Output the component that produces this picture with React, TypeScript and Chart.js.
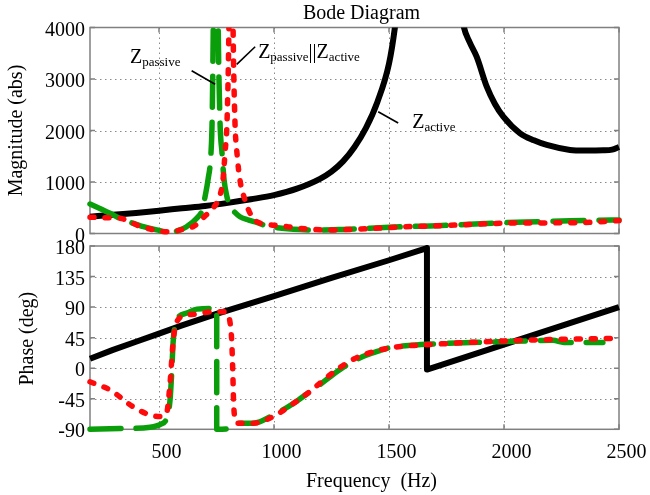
import React, { useEffect, useRef } from "react";
import { Chart, registerables } from "chart.js";

Chart.register(...registerables);

const SERIF = '"Liberation Serif", "Times New Roman", serif';
const GREEN = "#0b9e0b";
const RED = "#ff0a0a";

// ---- axis ticks ----
const freqTicks = [500, 1000, 1500, 2000, 2500];
const magTicks = [0, 1000, 2000, 3000, 4000];
const phaseTicks = [-90, -45, 0, 45, 90, 135, 180];

// ---- magnitude (abs) ----
const activeMagFreq = [200, 300, 400, 500, 600, 700, 800, 900, 1000, 1100, 1200, 1250, 1300, 1350, 1400, 1450, 1500, 1525, 1540, 1560, 1665, 1780, 1800, 1826, 1850, 1881, 1925, 1960, 1997, 2070, 2130, 2186, 2287, 2350, 2432, 2470, 2500];
const activeMag = [326, 365, 400, 443, 490, 535, 595, 665, 745, 870, 1060, 1200, 1400, 1680, 2050, 2560, 3300, 3980, 4600, 5600, null, 5600, 4700, 4000, 3720, 3434, 2851, 2520, 2268, 1946, 1810, 1719, 1622, 1610, 1615, 1630, 1680];

const passiveMagFreq = [200, 250, 287, 330, 380, 432, 490, 548, 585, 620, 664, 690, 700, 713, 726, 731, 736, 742, 748, 754, 757, 765, 774, 783, 795, 809, 830, 852, 890, 925, 960, 1000, 1084, 1200, 1300, 1417, 1561, 1709, 1850, 1997, 2150, 2287, 2400, 2500];
const passiveMag = [573, 470, 392, 295, 210, 132, 70, 23, 60, 132, 295, 480, 710, 1039, 1563, 2204, 4016, 7000, 9000, 6000, 4200, 2204, 1563, 1039, 720, 521, 410, 326, 260, 215, 160, 120, 81, 68, 80, 101, 132, 151, 180, 210, 230, 249, 255, 262];

const parallelMagFreq = [200, 250, 287, 330, 370, 403, 450, 500, 538, 580, 620, 648, 670, 697, 720, 740, 757, 778, 787, 796, 804, 810, 816, 822, 830, 839, 852, 874, 904, 939, 980, 1026, 1113, 1243, 1300, 1417, 1561, 1709, 1850, 1997, 2150, 2300, 2405, 2470, 2500];
const parallelMag = [315, 310, 305, 295, 240, 165, 100, 50, 35, 55, 101, 132, 200, 326, 420, 520, 650, 1039, 1563, 2204, 4016, 7000, 7000, 4016, 2204, 1563, 1039, 650, 326, 200, 170, 150, 101, 68, 75, 95, 130, 150, 175, 200, 205, 210, 223, 243, 250];

// ---- phase (deg) ----
const activePhaseFreq = [200, 300, 400, 500, 600, 750, 1000, 1250, 1500, 1665, 1665, 2500];
const activePhase = [14, 27, 39, 51, 63, 80, 106, 133, 159, 177, -2, 90];

const passivePhaseFreq = [200, 330, 461, 510, 533, 548, 555, 562, 577, 620, 665, 751, 751, 800, 838, 910, 997, 1084, 1150, 1200, 1250, 1300, 1350, 1400, 1460, 1500, 1600, 1707, 1983, 2213, 2260, 2430];
const passivePhase = [-90, -89, -87, -82, -74, -47, -8, 41, 71, 81, 87, 88, -90, -89, -81, -81, -69, -52, -36, -24, -11, 1, 11, 19, 26, 30, 34, 36, 39, 41, 38, 38];

const parallelPhaseFreq = [200, 287, 388, 461, 504, 533, 548, 562, 577, 620, 665, 735, 778, 795, 809, 816, 821, 824, 831, 844, 910, 997, 1084, 1150, 1200, 1243, 1300, 1350, 1400, 1461, 1550, 1635, 1852, 2070, 2330, 2500];
const parallelPhase = [-20, -32, -57, -69, -71, -66, -22, 41, 68, 78, 80, 83, 83, 82, 67, 41, -7, -47, -76, -81, -81, -71, -52, -36, -22, -10, 4, 14, 21, 27, 32, 34, 38, 41, 43, 44];

// ---- annotations (in data units: Hz, abs) ----
type Part = [string, number, number];
const magAnnotations: { parts: Part[]; at: number[]; line: number[][] }[] = [
  { parts: [["Z", 20, 0], ["passive", 13, 3]], at: [374, 3301], line: [[642, 3161], [744, 2897]] },
  {
    parts: [["Z", 20, 0], ["passive", 13, 3], ["||", 20, 0], ["Z", 20, 0], ["active", 13, 3]],
    at: [931, 3414],
    line: [[918, 3627], [838, 3285]],
  },
  { parts: [["Z", 20, 0], ["active", 13, 3]], at: [1601, 2049], line: [[1453, 2365], [1540, 2146]] },
];

const pts = (xs: number[], ys: (number | null)[]) => xs.map((x, i) => ({ x, y: ys[i] }));

function framePlugin(yTicks: number[]) {
  return {
    id: "frameGrid",
    beforeDatasetsDraw(chart: any) {
      const { ctx, chartArea: a, scales } = chart;
      const xs = scales.x;
      const ys = scales.y;
      ctx.save();
      ctx.lineWidth = 1;
      ctx.strokeStyle = "#8a8a8a";
      ctx.setLineDash([1.5, 3.5]);
      ctx.beginPath();
      for (const v of freqTicks) {
        const p = Math.round(xs.getPixelForValue(v)) + 0.5;
        if (p > a.left + 2 && p < a.right - 2) {
          ctx.moveTo(p, a.top);
          ctx.lineTo(p, a.bottom);
        }
      }
      for (const v of yTicks) {
        const p = Math.round(ys.getPixelForValue(v)) + 0.5;
        if (p > a.top + 2 && p < a.bottom - 2) {
          ctx.moveTo(a.left, p);
          ctx.lineTo(a.right, p);
        }
      }
      ctx.stroke();
      ctx.setLineDash([]);
      ctx.strokeStyle = "#808080";
      ctx.lineWidth = 1.5;
      ctx.beginPath();
      for (const v of freqTicks) {
        const p = xs.getPixelForValue(v);
        ctx.moveTo(p, a.top);
        ctx.lineTo(p, a.top + 5);
        ctx.moveTo(p, a.bottom);
        ctx.lineTo(p, a.bottom - 5);
      }
      for (const v of yTicks) {
        const p = ys.getPixelForValue(v);
        ctx.moveTo(a.left, p);
        ctx.lineTo(a.left + 5, p);
        ctx.moveTo(a.right, p);
        ctx.lineTo(a.right - 5, p);
      }
      ctx.stroke();
      ctx.strokeRect(a.left, a.top, a.right - a.left, a.bottom - a.top);
      ctx.restore();
    },
  };
}

function drawYLabels(ctx: CanvasRenderingContext2D, chart: any, ticks: number[]) {
  const ys = chart.scales.y;
  const a = chart.chartArea;
  ctx.font = `20px ${SERIF}`;
  ctx.textAlign = "right";
  ctx.textBaseline = "alphabetic";
  for (const v of ticks) {
    ctx.fillText(String(v), a.left - 5, ys.getPixelForValue(v) + 8);
  }
}

function drawRotated(ctx: CanvasRenderingContext2D, text: string, x: number, y: number) {
  ctx.save();
  ctx.translate(x, y);
  ctx.rotate(-Math.PI / 2);
  ctx.font = `20px ${SERIF}`;
  ctx.textAlign = "center";
  ctx.textBaseline = "middle";
  ctx.fillText(text, 0, 0);
  ctx.restore();
}

const topText = {
  id: "topText",
  afterDraw(chart: any) {
    const { ctx, chartArea: a, scales } = chart;
    ctx.save();
    ctx.fillStyle = "#000";
    drawYLabels(ctx, chart, magTicks);
    drawRotated(ctx, "Magnitude (abs)", 17, (a.top + a.bottom) / 2);
    ctx.font = `20px ${SERIF}`;
    ctx.textAlign = "center";
    ctx.textBaseline = "alphabetic";
    ctx.fillText("Bode Diagram", (a.left + a.right) / 2 + 7, 19);
    // annotations
    ctx.strokeStyle = "#000";
    ctx.lineWidth = 1.6;
    for (const an of magAnnotations) {
      ctx.beginPath();
      ctx.moveTo(scales.x.getPixelForValue(an.line[0][0]), scales.y.getPixelForValue(an.line[0][1]));
      ctx.lineTo(scales.x.getPixelForValue(an.line[1][0]), scales.y.getPixelForValue(an.line[1][1]));
      ctx.stroke();
      let x = scales.x.getPixelForValue(an.at[0]);
      const y = scales.y.getPixelForValue(an.at[1]);
      ctx.textAlign = "left";
      for (const [t, size, dy] of an.parts) {
        ctx.font = `${size}px ${SERIF}`;
        ctx.fillText(t, x, y + dy);
        x += ctx.measureText(t).width;
      }
    }
    ctx.restore();
  },
};

const bottomText = {
  id: "bottomText",
  afterDraw(chart: any) {
    const { ctx, chartArea: a, scales } = chart;
    ctx.save();
    ctx.fillStyle = "#000";
    drawYLabels(ctx, chart, phaseTicks);
    drawRotated(ctx, "Phase (deg)", 28, (a.top + a.bottom) / 2 + 1);
    ctx.font = `20px ${SERIF}`;
    ctx.textAlign = "center";
    ctx.textBaseline = "alphabetic";
    for (const v of freqTicks) {
      ctx.fillText(String(v), scales.x.getPixelForValue(v) + 7.5, a.bottom + 29);
    }
    ctx.fillText("Frequency  (Hz)", (a.left + a.right) / 2 + 17, a.bottom + 58);
    ctx.restore();
  },
};

const lineStyle = (color: string, kind: "solid" | "dash" | "dot") => ({
  borderColor: color,
  backgroundColor: color,
  borderWidth: kind === "solid" ? 6 : 5.5,
  borderDash: kind === "dash" ? [31, 15] : kind === "dot" ? [4, 11] : [],
  borderCapStyle: kind === "solid" ? "butt" : "round",
  borderJoinStyle: "round",
  pointRadius: 0,
  fill: false,
  spanGaps: false,
});

function baseOptions(padding: any, yMin: number, yMax: number) {
  return {
    animation: false,
    responsive: false,
    devicePixelRatio: 1,
    events: [],
    layout: { padding },
    plugins: { legend: { display: false }, tooltip: { enabled: false }, title: { display: false } },
    scales: {
      x: { type: "linear", min: 200, max: 2500, display: false },
      y: { type: "linear", min: yMin, max: yMax, display: false },
    },
  };
}

export default function App() {
  const topRef = useRef<HTMLCanvasElement>(null);
  const botRef = useRef<HTMLCanvasElement>(null);

  useEffect(() => {
    const topClip = { left: 3, right: 3, top: 0, bottom: 3 };
    const top = new Chart(topRef.current as HTMLCanvasElement, {
      type: "line",
      data: {
        datasets: [
          { data: pts(parallelMagFreq, parallelMag), ...lineStyle(RED, "dot"), cubicInterpolationMode: "monotone", clip: topClip },
          { data: pts(passiveMagFreq, passiveMag), ...lineStyle(GREEN, "dash"), cubicInterpolationMode: "monotone", clip: topClip },
          { data: pts(activeMagFreq, activeMag), ...lineStyle("#000", "solid"), cubicInterpolationMode: "monotone", clip: topClip },
        ],
      } as any,
      options: baseOptions({ left: 90, right: 31, top: 27.5, bottom: 261.5 }, 0, 4000) as any,
      plugins: [framePlugin(magTicks), topText] as any,
    });
    const bot = new Chart(botRef.current as HTMLCanvasElement, {
      type: "line",
      data: {
        datasets: [
          { data: pts(parallelPhaseFreq, parallelPhase), ...lineStyle(RED, "dot"), cubicInterpolationMode: "monotone", clip: 4 },
          { data: pts(passivePhaseFreq, passivePhase), ...lineStyle(GREEN, "dash"), cubicInterpolationMode: "monotone", clip: 4 },
          { data: pts(activePhaseFreq, activePhase), ...lineStyle("#000", "solid"), tension: 0, clip: 4 },
        ],
      } as any,
      options: baseOptions({ left: 90, right: 31, top: 246, bottom: 65.7 }, -90, 180) as any,
      plugins: [framePlugin(phaseTicks), bottomText] as any,
    });
    return () => {
      top.destroy();
      bot.destroy();
    };
  }, []);

  const cs: React.CSSProperties = { position: "absolute", left: 0, top: 0, width: 650, height: 495 };
  return (
    <div style={{ position: "absolute", left: 0, top: 0, width: 650, height: 495, background: "#fff" }}>
      <canvas ref={botRef} width={650} height={495} style={cs} />
      <canvas ref={topRef} width={650} height={495} style={cs} />
    </div>
  );
}
